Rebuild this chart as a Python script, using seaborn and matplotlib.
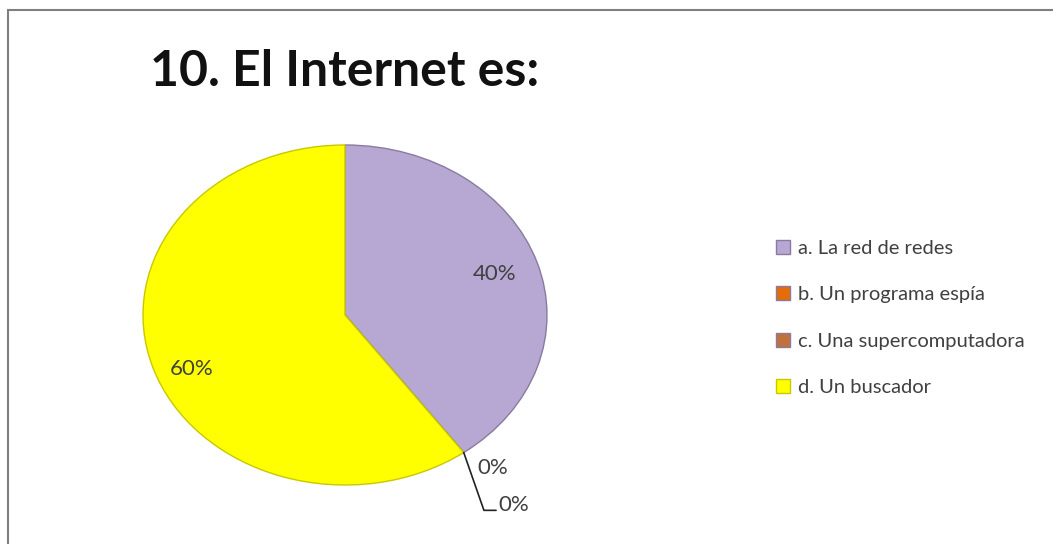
import numpy as np
import seaborn as sns
import matplotlib.pyplot as plt
from matplotlib.patches import Rectangle

# data
categories = ["a. La red de redes", "b. Un programa espía",
              "c. Una supercomputadora", "d. Un buscador"]
shares = [40, 0, 0, 60]
title = "10. El Internet es:"
colors = ["#b7a8d3", "#e46c0a", "#c0723c", "#ffff00"]

sns.set_theme(style="white")
plt.rcParams['font.family'] = ['Lato', 'DejaVu Sans']

fig = plt.figure(figsize=(10.53, 5.44), dpi=100)
fig.patch.set_facecolor("white")

# frame of the chart area
fig.patches.append(Rectangle((8 / 1053, -0.05), 1.1, 1 - 10 / 544 + 0.05,
                             transform=fig.transFigure, fill=False,
                             edgecolor="#7f7f7f", linewidth=1.5))

fig.text(150 / 1053, 1 - 71 / 544, title, fontsize=36, fontweight="bold",
         color="#111111", va="center", ha="left")

ax = fig.add_axes([143 / 1053, 59 / 544, 404 / 1053, 340 / 544])
wedges, _ = ax.pie(shares, colors=colors, startangle=90, counterclock=False,
                   wedgeprops=dict(edgecolor="#8a7aa0", linewidth=1.0))
wedges[3].set_edgecolor("#c8c800")
ax.set_aspect("auto")
ax.set_xlim(-1, 1)
ax.set_ylim(-1, 1)
ax.axis("off")

# percentage labels
total = sum(shares)
cum = 0
angles = []
for s in shares:
    a0 = 90 - 360 * cum / total
    a1 = 90 - 360 * (cum + s) / total
    angles.append((a0, a1))
    cum += s

lab_kw = dict(fontsize=16, color="#404040")
mid = np.deg2rad(np.mean(angles[0]))
ax.text(0.78 * np.cos(mid), 0.78 * np.sin(mid), f"{shares[0]}%",
        ha="center", va="center", **lab_kw)
mid = np.deg2rad(np.mean(angles[3]))
ax.text(0.8 * np.cos(mid), 0.8 * np.sin(mid) - 0.07, f"{shares[3]}%",
        ha="center", va="center", **lab_kw)

# the two zero slices sit on the boundary at the bottom right
b = np.deg2rad(angles[1][0])
bx, by = np.cos(b), np.sin(b)
ax.text(bx + 0.07, by - 0.09, f"{shares[1]}%", ha="left", va="center",
        clip_on=False, **lab_kw)
ax.plot([bx, bx + 0.1, bx + 0.16], [by, by - 0.34, by - 0.34],
        color="#222222", linewidth=1.2, clip_on=False)
ax.text(bx + 0.17, by - 0.31, f"{shares[2]}%", ha="left", va="center",
        clip_on=False, **lab_kw)

fig.legend(wedges, categories, loc="upper left",
           bbox_to_anchor=(776 / 1053, 1 - 240 / 544), frameon=False,
           fontsize=14.5, labelcolor="#404040", handlelength=0.7,
           handleheight=0.7, handletextpad=0.4, labelspacing=1.45,
           borderpad=0, borderaxespad=0)

fig.savefig("out.png", dpi=100)
